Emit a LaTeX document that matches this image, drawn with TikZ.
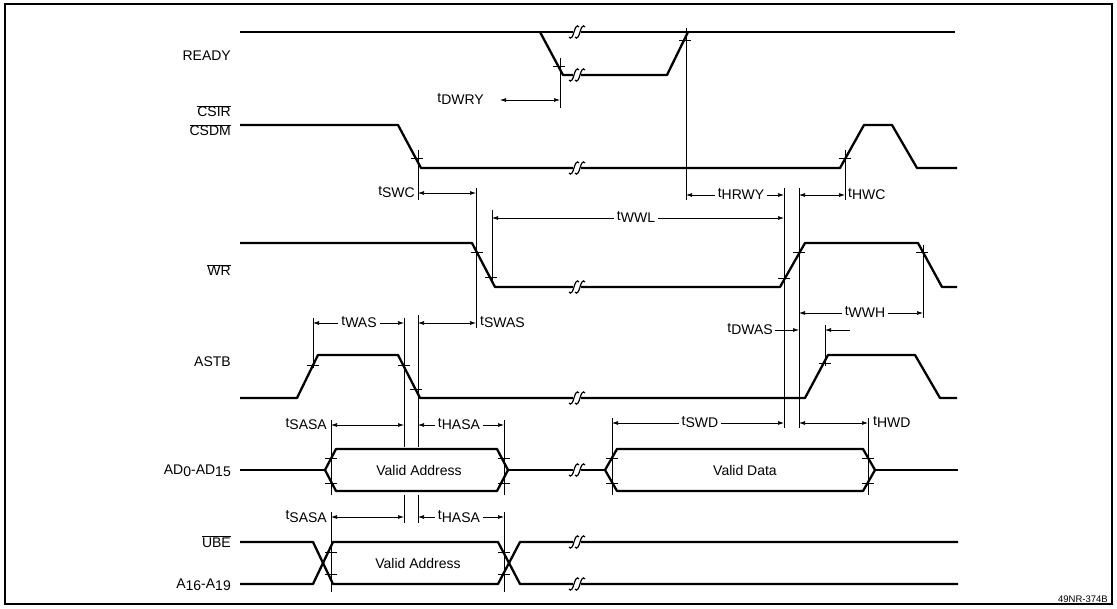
\documentclass[tikz,border=0pt]{standalone}
\usepackage{fontspec}
\setmainfont{Liberation Sans}
\usetikzlibrary{arrows.meta}
\newcommand\tlab[1]{\raisebox{2.5pt}{t}#1}
\newcommand\lo[1]{\raisebox{-2pt}{#1}}
\newcommand\ovl[1]{$\overline{\mbox{#1}}$}
\tikzset{
  sig/.style={line width=2.3pt, line join=round},
  refl/.style={line width=0.8pt},
  dim/.style={line width=0.7pt, {Latex[length=6pt,width=4pt]}-{Latex[length=6pt,width=4pt]}},
  dimr/.style={line width=0.7pt, -{Latex[length=6pt,width=4pt]}},
  lbl/.style={font=\fontsize{14}{16}\selectfont, inner sep=0pt},
  mid/.style={lbl, fill=white, inner xsep=3pt, inner ysep=1pt, anchor=base},
}
\newcommand\tk[2]{\draw[refl] (#1-6,#2) -- (#1+6,#2);}
\newcommand\brk[2]{%
  \fill[white] (#1-4,#2-2.5) rectangle (#1+4,#2+2.5);
  \draw[line width=1.2pt] (#1-8,#2+5) .. controls (#1-6,#2+8) and (#1-4,#2+4) .. (#1-3,#2) .. controls (#1-2,#2-4) and (#1,#2-8) .. (#1+2,#2-5);
  \draw[line width=1.2pt] (#1-2,#2+5) .. controls (#1,#2+8) and (#1+2,#2+4) .. (#1+3,#2) .. controls (#1+4,#2-4) and (#1+6,#2-8) .. (#1+8,#2-5);
}
\begin{document}
\begin{tikzpicture}[x=1pt,y=-1pt]
\useasboundingbox (0,0) rectangle (1117,609);
\draw[line width=1.2pt] (5,4) rectangle (1112,604);

% signal names
\node[lbl, anchor=base east] (nready) at (231,61) {READY};
\node[lbl, anchor=base east] (ncsir) at (231,117) {\ovl{CSIR}};
\node[lbl, anchor=base east] (ncsdm) at (231,136) {\ovl{CSDM}};
\node[lbl, anchor=base east] (nwr) at (231,276) {\ovl{WR}};
\node[lbl, anchor=base east] (nastb) at (231,367) {ASTB};
\node[lbl, anchor=base east] (nad) at (231,475) {AD\lo{0}-AD\lo{15}};
\node[lbl, anchor=base east] (nube) at (231,547) {\ovl{UBE}};
\node[lbl, anchor=base east] (na16) at (231,588) {A\lo{16}-A\lo{19}};

% reference lines
\draw[refl] (560,58) -- (560,108);
\draw[refl] (686,28) -- (686,200);
\draw[refl] (418,150) -- (418,200);
\draw[refl] (476,188) -- (476,328);
\draw[refl] (492,210) -- (492,280);
\draw[refl] (784,188) -- (784,428);
\draw[refl] (799,188) -- (799,428);
\draw[refl] (845,150) -- (845,200);
\draw[refl] (923,245) -- (923,318);
\draw[refl] (825,325) -- (825,366);
\draw[refl] (313,318) -- (313,368);
\draw[refl] (404,318) -- (404,447);
\draw[refl] (404,495) -- (404,523);
\draw[refl] (418,315) -- (418,447);
\draw[refl] (418,495) -- (418,523);
\draw[refl] (331,420) -- (331,495);
\draw[refl] (331,512) -- (331,592);
\draw[refl] (504,420) -- (504,495);
\draw[refl] (504,512) -- (504,592);
\draw[refl] (612,418) -- (612,495);
\draw[refl] (868,418) -- (868,495);

% READY
\draw[sig] (240,32) -- (955,32);
\draw[sig] (540,32) -- (563,75) -- (667,75) -- (688,32);
\brk{577}{32} \brk{577}{75}
% CSIR/CSDM
\draw[sig] (240,125) -- (398,125) -- (421,168) -- (840,168) -- (864,125) -- (892,125) -- (917,168) -- (957,168);
\brk{577}{168}
% WR
\draw[sig] (240,243) -- (472,243) -- (495,287) -- (780,287) -- (805,243) -- (918,243) -- (942,287) -- (957,287);
\brk{577}{287}
% ASTB
\draw[sig] (240,398) -- (297,398) -- (318,355) -- (398,355) -- (420,398) -- (805,398) -- (828,355) -- (915,355) -- (940,398) -- (957,398);
\brk{577}{398}
% AD0-AD15
\draw[sig] (240,470) -- (325,470);
\draw[sig] (325,470) -- (336,449) -- (497,449) -- (508,470) -- (497,491) -- (336,491) -- cycle;
\draw[sig] (508,470) -- (605,470);
\draw[sig] (605,470) -- (617,449) -- (863,449) -- (875,470) -- (863,491) -- (617,491) -- cycle;
\draw[sig] (875,470) -- (958,470);
\brk{577}{470}
\node[lbl] (va1) at (419,470) {Valid Address};
\node[lbl] (vd) at (745,470) {Valid Data};
% UBE / A16-A19
\draw[sig] (240,542) -- (313,542) -- (333,584) -- (498,584) -- (520,542) -- (958,542);
\draw[sig] (240,584) -- (313,584) -- (333,542) -- (498,542) -- (520,584) -- (958,584);
\brk{577}{542} \brk{577}{584}
\node[lbl] (va2) at (418,563) {Valid Address};

% ticks
\tk{559}{66} \tk{685}{40}
\tk{417}{158} \tk{845}{158}
\tk{477}{252} \tk{491}{277} \tk{784}{278} \tk{799}{252} \tk{922}{252}
\tk{313}{365} \tk{404}{365} \tk{416}{389} \tk{825}{363}
\tk{331}{458} \tk{331}{483} \tk{504}{458} \tk{504}{483}
\tk{612}{458} \tk{612}{483} \tk{868}{458} \tk{868}{483}
\tk{331}{552} \tk{331}{574} \tk{504}{552} \tk{504}{574}

% timing dimensions
\draw[dim] (500,100) -- (560,100);
\node[lbl, anchor=base east] (tdwry) at (484,105) {\tlab{DWRY}};
\draw[dim] (418,193) -- (476,193);
\node[lbl, anchor=base east] (tswc) at (415,198) {\tlab{SWC}};
\draw[dim] (686,195) -- (784,195);
\node[mid] (thrwy) at (741,200) {\tlab{HRWY}};
\draw[dim] (799,195) -- (845,195);
\node[lbl, anchor=base west] (thwc) at (848,200) {\tlab{HWC}};
\draw[dim] (492,218) -- (784,218);
\node[mid] (twwl) at (636,223) {\tlab{WWL}};
\draw[dim] (313,323) -- (404,323);
\node[mid] (twas) at (359,328) {\tlab{WAS}};
\draw[dim] (418,323) -- (476,323);
\node[lbl, anchor=base west] (tswas) at (480,328) {\tlab{SWAS}};
\draw[dim] (799,313) -- (923,313);
\node[mid] (twwh) at (865,318) {\tlab{WWH}};
\draw[dimr] (775,330) -- (799,330);
\node[lbl, anchor=base east] (tdwas) at (773,335) {\tlab{DWAS}};
\draw[dimr] (850,330) -- (825,330);
\draw[dim] (331,425) -- (404,425);
\node[lbl, anchor=base east] (tsasa1) at (327,430) {\tlab{SASA}};
\draw[dim] (418,425) -- (504,425);
\node[mid] (thasa1) at (459,430) {\tlab{HASA}};
\draw[dim] (612,423) -- (784,423);
\node[mid] (tswd) at (700,428) {\tlab{SWD}};
\draw[dim] (799,423) -- (868,423);
\node[lbl, anchor=base west] (thwd) at (873,428) {\tlab{HWD}};
\draw[dim] (331,517) -- (404,517);
\node[lbl, anchor=base east] (tsasa2) at (327,522) {\tlab{SASA}};
\draw[dim] (418,517) -- (504,517);
\node[mid] (thasa2) at (459,522) {\tlab{HASA}};

\node[font=\fontsize{9.5}{11}\selectfont, inner sep=0pt, anchor=base east] (fig) at (1108,602) {49NR-374B};
\end{tikzpicture}
\end{document}
